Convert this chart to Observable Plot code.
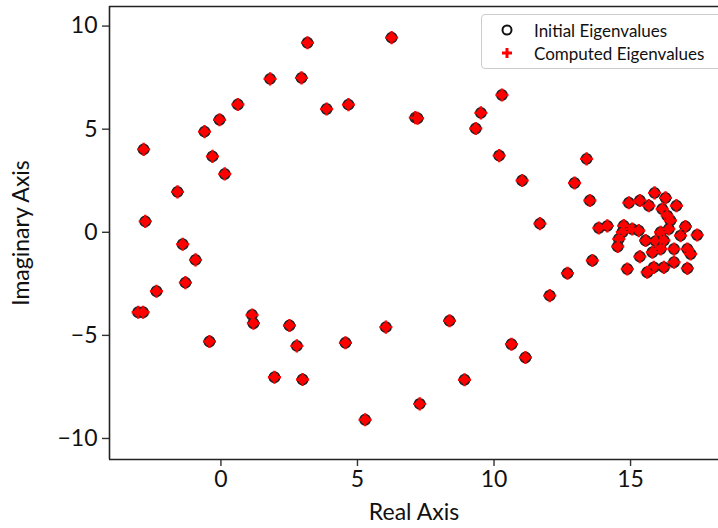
<!DOCTYPE html>
<html>
<head>
<meta charset="utf-8">
<script src="https://cdn.jsdelivr.net/npm/d3@7"></script>
<script src="https://cdn.jsdelivr.net/npm/@observablehq/plot@0.6"></script>
<style>
  html, body { margin: 0; padding: 0; background: #fff; }
  #wrap { position: relative; width: 718px; height: 528px; overflow: hidden; font-family: Lato, "DejaVu Sans", sans-serif; }
  #legend { position: absolute; left: 481px; top: 14px; width: 260px; height: 55px; border: 1px solid #cccccc; border-radius: 4px; background: rgba(255,255,255,0.85); box-sizing: border-box; }
  .row { position: absolute; left: 0; height: 22px; display: flex; align-items: center; font-size: 17px; color: #111; }
  .row svg { margin-left: 19px; margin-right: 21px; }
</style>
</head>
<body>
<div id="wrap"></div>
<script>
// Eigenvalues (real part, imaginary part)
const realParts = [
  3.17, 6.25, 1.80, 2.95, 0.62, 3.87, 4.67, -0.05, -0.60, 7.12, 7.20, 9.52, 9.33, 10.29, 10.19, 11.03, 11.68,
  -2.83, -0.31, 0.14, -1.59, -2.77, -1.40, -0.93, -1.30, -2.36, -3.03, -2.85, -0.42, 1.14, 1.19, 2.51, 2.78,
  1.96, 2.99, 4.56, 6.04, 5.28, 7.28, 8.37, 8.92, 10.64, 11.15, 12.04, 12.69, 12.95, 13.39, 13.51, 13.60, 13.84, 14.15,
  14.94, 15.34, 15.88, 15.67, 16.28, 16.68, 16.16, 16.34, 16.10, 16.46, 17.01, 17.44, 16.83, 16.40, 14.75, 14.70,
  14.57, 15.06, 15.30, 15.55, 15.92, 16.22, 16.10, 15.80, 15.34, 16.59, 17.08, 17.20, 16.59, 16.22, 15.85, 15.61,
  14.88, 17.08, 14.53
];
const imagParts = [
  9.19, 9.44, 7.44, 7.49, 6.20, 5.98, 6.19, 5.46, 4.88, 5.56, 5.53, 5.79, 5.03, 6.66, 3.72, 2.51, 0.42,
  4.02, 3.68, 2.83, 1.96, 0.53, -0.58, -1.34, -2.44, -2.86, -3.88, -3.88, -5.30, -4.01, -4.41, -4.52, -5.51,
  -7.03, -7.14, -5.36, -4.60, -9.09, -8.32, -4.29, -7.15, -5.43, -6.07, -3.07, -1.99, 2.39, 3.56, 1.54, -1.37, 0.21, 0.31,
  1.43, 1.54, 1.91, 1.29, 1.67, 1.29, 1.13, 0.81, 0.00, 0.57, 0.28, -0.13, -0.16, 0.16, 0.32, 0.00,
  -0.32, 0.16, 0.08, -0.40, -0.43, -0.40, -0.81, -0.97, -1.18, -0.81, -0.81, -1.05, -1.45, -1.70, -1.70, -1.94,
  -1.78, -1.75, -0.69
];
const xTicks = [0, 5, 10, 15];
const yTicks = [-10, -5, 0, 5, 10];
const xDomain = [-4.08, 18.22];
const yDomain = [-11.02, 10.95];
const seriesNames = ["Initial Eigenvalues", "Computed Eigenvalues"];

const pts = realParts.map((re, i) => ({re, im: imagParts[i]}));
const fmt = d => (d < 0 ? "\u2212" + Math.abs(d) : String(d));

const chart = Plot.plot({
  width: 718,
  height: 528,
  marginLeft: 109,
  marginRight: 0,
  marginTop: 6,
  marginBottom: 69,
  style: { fontFamily: "Lato, 'DejaVu Sans', sans-serif", fontSize: "23px", color: "#111", background: "white" },
  x: { domain: xDomain, ticks: xTicks, tickFormat: fmt },
  y: { domain: yDomain, ticks: yTicks, tickFormat: fmt },
  marks: [
    Plot.axisX({ ticks: xTicks, tickFormat: fmt, tickSize: 7, tickPadding: 4, stroke: "#333", strokeWidth: 1.4,
      label: "Real Axis", labelAnchor: "center", labelArrow: "none", labelOffset: 60, fontSize: 23 }),
    Plot.axisY({ ticks: yTicks, tickFormat: fmt, tickSize: 7, tickPadding: 5, stroke: "#333", strokeWidth: 1.4,
      label: "Imaginary Axis", labelAnchor: "center", labelArrow: "none", labelOffset: 97, fontSize: 23 }),
    Plot.ruleX([xDomain[0]], { stroke: "#222", strokeWidth: 1.6 }),
    Plot.ruleY([yDomain[0], yDomain[1]], { stroke: "#222", strokeWidth: 1.6 }),
    Plot.dot(pts, { x: "re", y: "im", r: 5.2, fill: "red", stroke: "#222", strokeWidth: 1.5 }),
    Plot.dot(pts, { x: "re", y: "im", symbol: "plus", r: 4.3, stroke: "red", strokeWidth: 2.4 })
  ]
});

const wrap = document.getElementById("wrap");
wrap.appendChild(chart);

const legend = document.createElement("div");
legend.id = "legend";
legend.innerHTML = `
  <div class="row" style="top:4px"><svg width="12" height="12" viewBox="-6 -6 12 12"><circle r="4.5" fill="none" stroke="#111" stroke-width="2"/></svg><span>${seriesNames[0]}</span></div>
  <div class="row" style="top:27px"><svg width="12" height="12" viewBox="-6 -6 12 12"><path d="M-5,0H5M0,-5V5" stroke="red" stroke-width="3"/></svg><span>${seriesNames[1]}</span></div>`;
wrap.appendChild(legend);
</script>
</body>
</html>
